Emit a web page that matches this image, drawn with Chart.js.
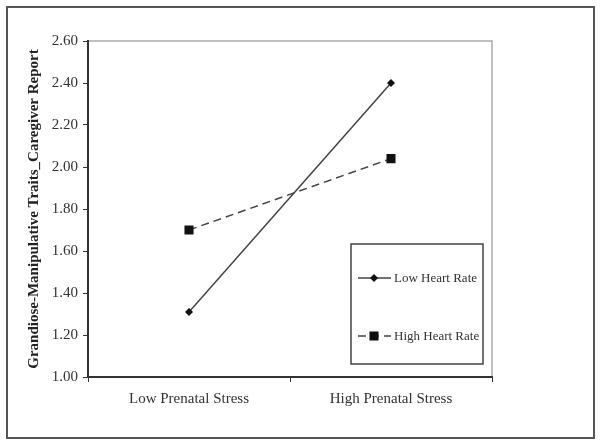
<!DOCTYPE html>
<html>
<head>
<meta charset="utf-8">
<script src="https://cdn.jsdelivr.net/npm/chart.js@4/dist/chart.umd.min.js"></script>
<style>
  html, body { margin: 0; padding: 0; background: #fff; }
  #wrap { width: 602px; height: 446px; }
</style>
</head>
<body>
<div id="wrap"><canvas id="myChart" width="602" height="446"></canvas></div>
<script>
// Chart - Data
let categories = ["Low Prenatal Stress", "High Prenatal Stress"];
let lowHeartRate = [1.31, 2.40];
let highHeartRate = [1.70, 2.04];
let seriesNames = ["Low Heart Rate", "High Heart Rate"];
let yTitle = "Grandiose-Manipulative Traits_Caregiver Report";

const serif = "'Liberation Serif', 'Times New Roman', serif";

// outer frame + light plot border (top/right)
const framePlugin = {
  id: 'frame',
  beforeDraw(chart) {
    const ctx = chart.ctx;
    const a = chart.chartArea;
    ctx.save();
    ctx.fillStyle = '#fff';
    ctx.fillRect(0, 0, chart.width, chart.height);
    ctx.strokeStyle = '#555';
    ctx.lineWidth = 2;
    ctx.strokeRect(7, 7, 587, 431);
    ctx.strokeStyle = '#aaa';
    ctx.lineWidth = 1.5;
    ctx.strokeRect(a.left, a.top, a.right - a.left, a.bottom - a.top);
    ctx.restore();
  }
};

// legend box drawn inside the plot area
const boxLegend = {
  id: 'boxLegend',
  afterDraw(chart) {
    const ctx = chart.ctx;
    const x0 = 351, y0 = 244, w = 132, h = 120;
    ctx.save();
    ctx.fillStyle = '#fff';
    ctx.fillRect(x0, y0, w, h);
    ctx.strokeStyle = '#444';
    ctx.lineWidth = 1.5;
    ctx.strokeRect(x0, y0, w, h);
    const rows = [278, 336];
    chart.data.datasets.forEach((ds, i) => {
      const y = rows[i];
      ctx.strokeStyle = ds.borderColor;
      ctx.lineWidth = ds.borderWidth;
      ctx.setLineDash(ds.borderDash || []);
      ctx.beginPath();
      ctx.moveTo(358, y);
      ctx.lineTo(391, y);
      ctx.stroke();
      ctx.setLineDash([]);
      ctx.fillStyle = ds.pointBackgroundColor;
      Chart.helpers.drawPoint(ctx, {
        pointStyle: ds.pointStyle,
        radius: ds.pointRadius,
        borderWidth: 0
      }, 374, y);
      ctx.fillStyle = '#333';
      ctx.font = '13px ' + serif;
      ctx.textBaseline = 'middle';
      ctx.textAlign = 'left';
      ctx.fillText(ds.label, 394, y + 1);
    });
    ctx.restore();
  }
};

new Chart("myChart", {
  type: "line",
  data: {
    labels: categories,
    datasets: [{
      label: seriesNames[0],
      data: lowHeartRate,
      borderColor: '#444',
      borderWidth: 1.5,
      pointStyle: 'rectRot',
      pointRadius: 4,
      pointBackgroundColor: '#111',
      pointBorderWidth: 0
    }, {
      label: seriesNames[1],
      data: highHeartRate,
      borderColor: '#444',
      borderWidth: 1.5,
      borderDash: [8, 5],
      pointStyle: 'rect',
      pointRadius: 6.4,
      pointBackgroundColor: '#111',
      pointBorderWidth: 0
    }]
  },
  options: {
    responsive: false,
    animation: false,
    layout: { padding: { top: 41, right: 110, left: 0, bottom: 0 } },
    plugins: {
      legend: { display: false },
      tooltip: { enabled: false }
    },
    scales: {
      x: {
        offset: true,
        afterFit(scale) { scale.height = 69; },
        grid: {
          offset: true,
          drawOnChartArea: false,
          drawTicks: true,
          tickLength: 5,
          color: '#333'
        },
        border: { color: '#333', width: 2 },
        ticks: {
          color: '#333',
          padding: 8,
          font: { family: serif, size: 15 }
        }
      },
      y: {
        min: 1.0,
        max: 2.6,
        afterFit(scale) { scale.width = 88; },
        grid: {
          drawOnChartArea: false,
          drawTicks: true,
          tickLength: 5,
          color: '#333'
        },
        border: { color: '#333', width: 2 },
        ticks: {
          stepSize: 0.2,
          color: '#333',
          padding: 5,
          font: { family: serif, size: 15 },
          callback: (v) => v.toFixed(2)
        },
        title: {
          display: true,
          text: yTitle,
          color: '#222',
          padding: { top: 25, bottom: 0 },
          font: { family: serif, size: 15, weight: 'bold' }
        }
      }
    }
  },
  plugins: [framePlugin, boxLegend]
});
</script>
</body>
</html>
